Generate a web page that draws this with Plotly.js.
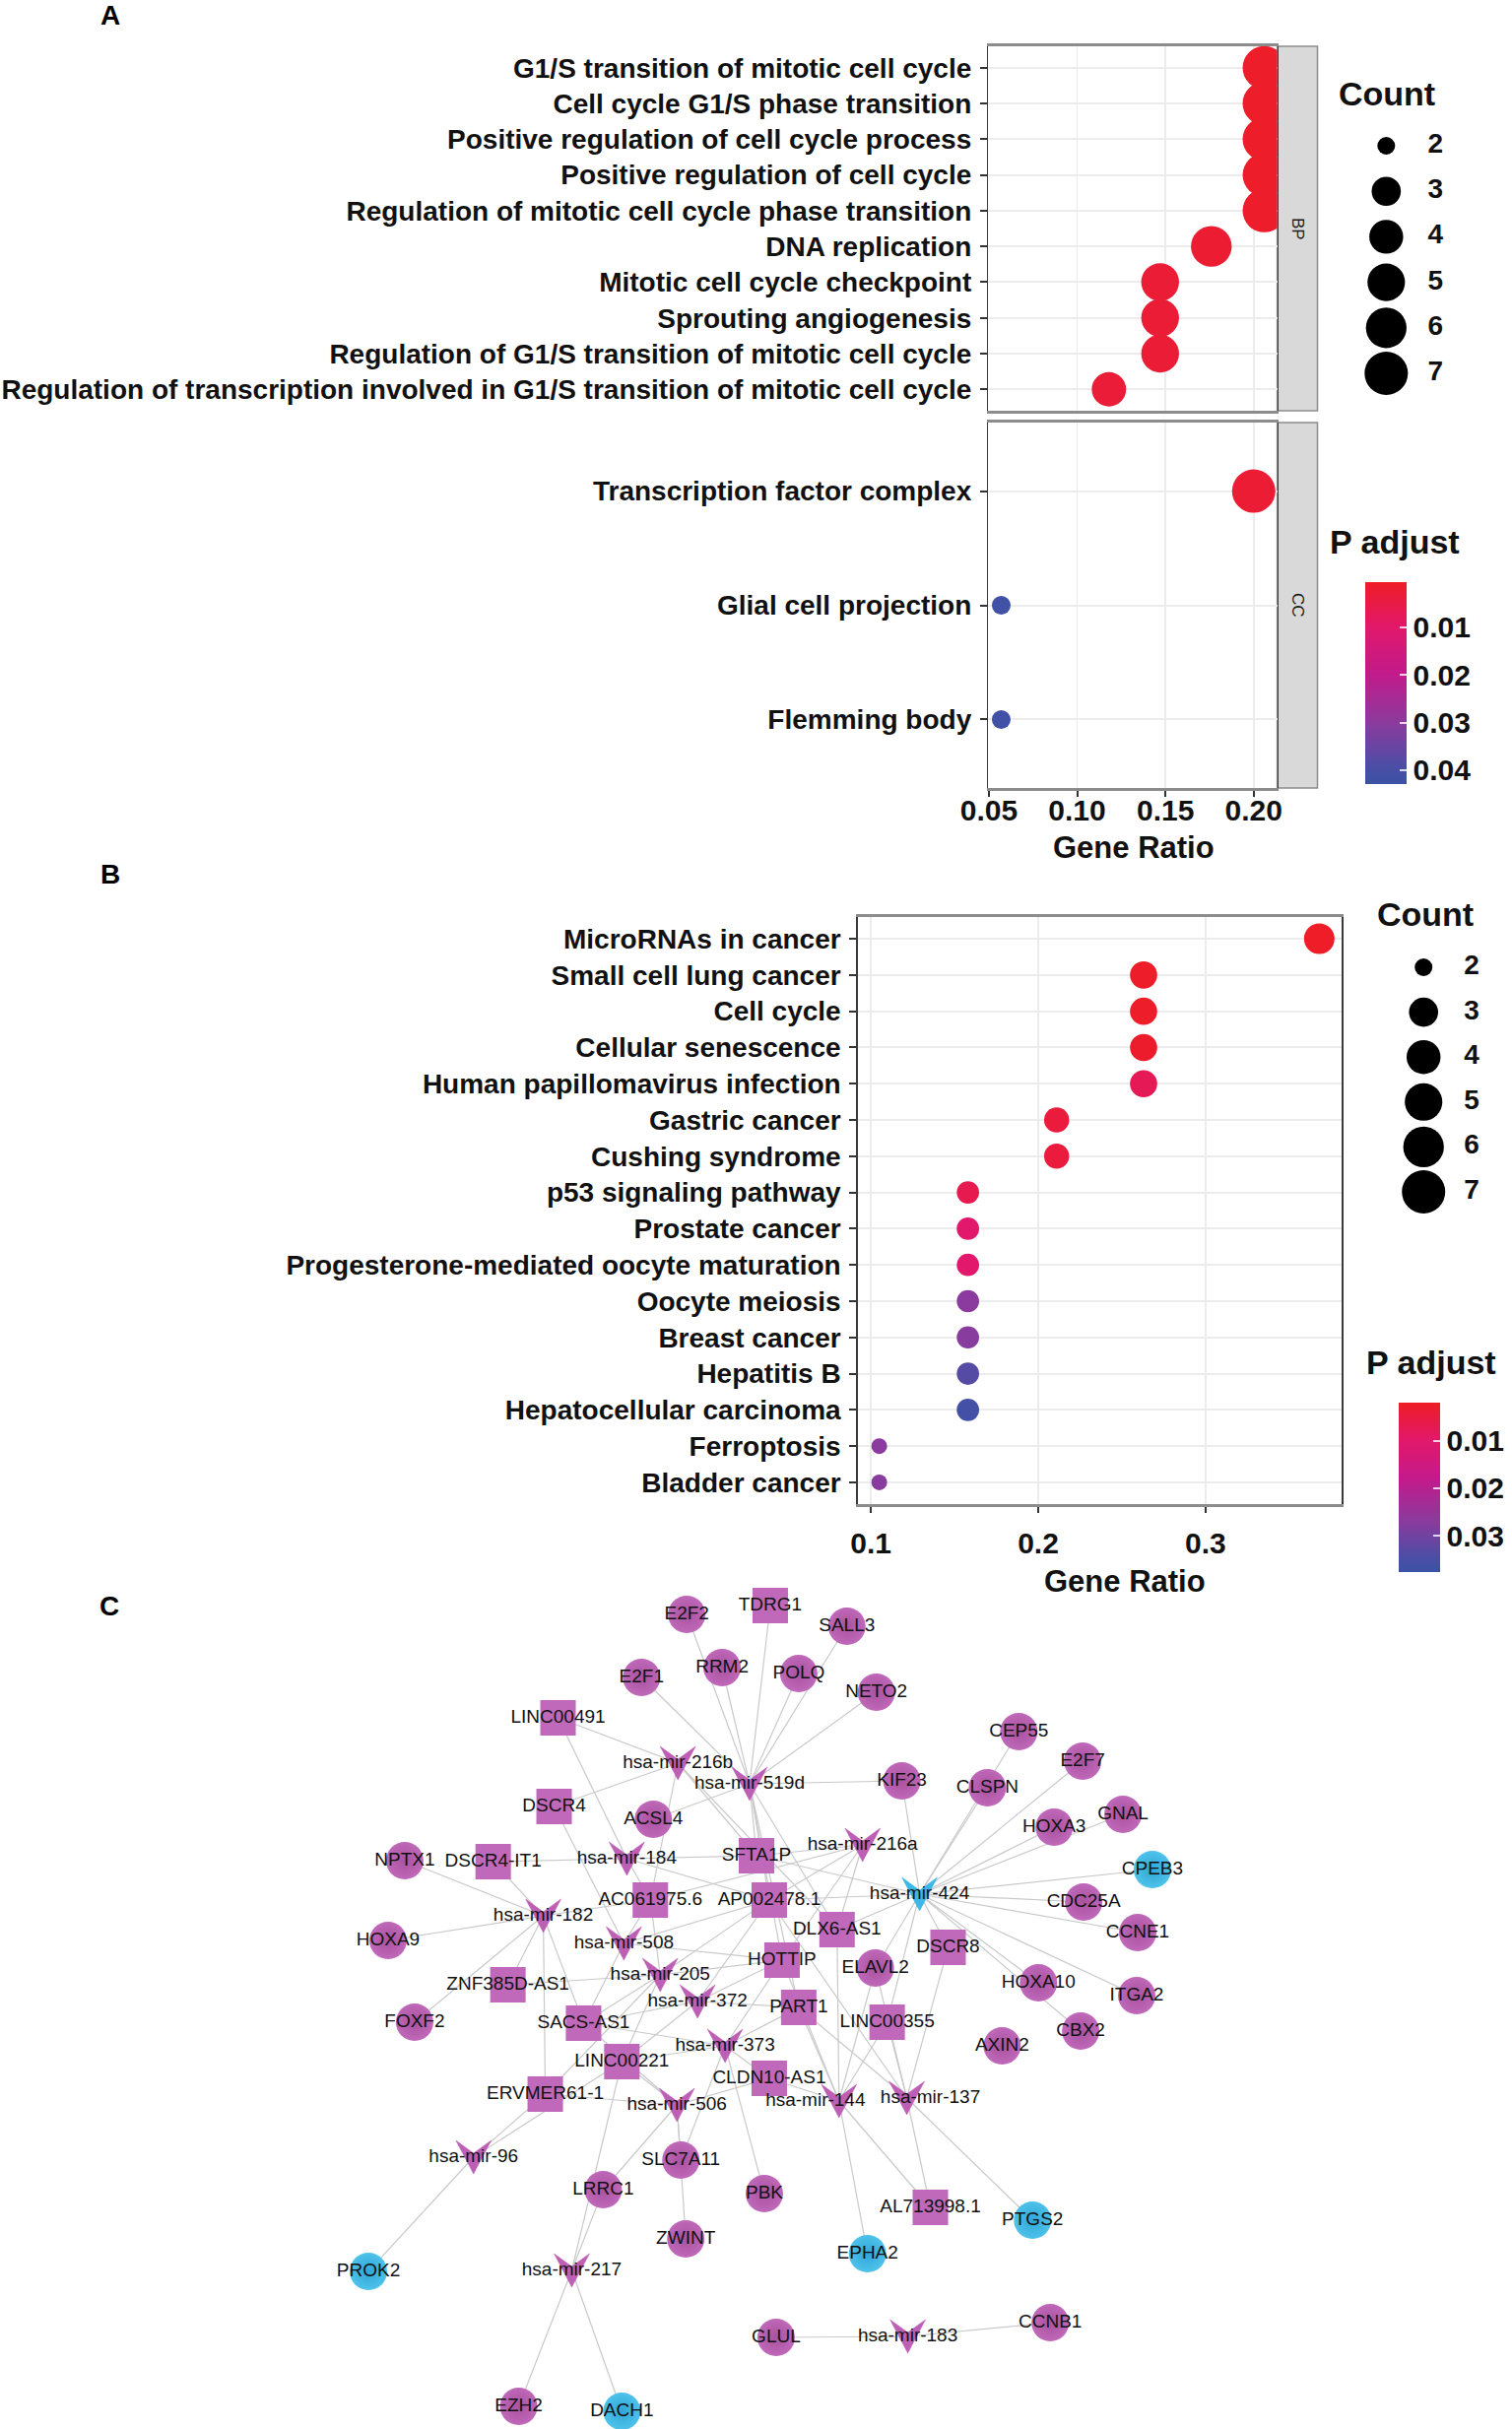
<!DOCTYPE html>
<html>
<head>
<meta charset="utf-8">
<script src="https://cdn.plot.ly/plotly-3.0.1.min.js"></script>
<style>
html,body{margin:0;padding:0;background:#ffffff;}
#chart{width:1535px;height:2466px;}
</style>
</head>
<body>
<div id="chart"></div>
<script>
// ---------------- DATA ----------------
// Panel A - GO enrichment (BP)
const bpTerms = ["G1/S transition of mitotic cell cycle","Cell cycle G1/S phase transition","Positive regulation of cell cycle process","Positive regulation of cell cycle","Regulation of mitotic cell cycle phase transition","DNA replication","Mitotic cell cycle checkpoint","Sprouting angiogenesis","Regulation of G1/S transition of mitotic cell cycle","Regulation of transcription involved in G1/S transition of mitotic cell cycle"];
const bpRatio = [0.206,0.206,0.206,0.206,0.206,0.176,0.147,0.147,0.147,0.118];
const bpCount = [7,7,7,7,7,6,5,5,5,4];
const bpPadj  = [0.0010,0.0010,0.0011,0.0012,0.0013,0.0022,0.0028,0.0028,0.0028,0.0030];
// Panel A - GO enrichment (CC)
const ccTerms = ["Transcription factor complex","Glial cell projection","Flemming body"];
const ccRatio = [0.200,0.057,0.057];
const ccCount = [7,2,2];
const ccPadj  = [0.0025,0.0415,0.0415];
// Panel B - KEGG enrichment
const keggTerms = ["MicroRNAs in cancer","Small cell lung cancer","Cell cycle","Cellular senescence","Human papillomavirus infection","Gastric cancer","Cushing syndrome","p53 signaling pathway","Prostate cancer","Progesterone-mediated oocyte maturation","Oocyte meiosis","Breast cancer","Hepatitis B","Hepatocellular carcinoma","Ferroptosis","Bladder cancer"];
const keggRatio = [0.368,0.263,0.263,0.263,0.263,0.211,0.211,0.158,0.158,0.158,0.158,0.158,0.158,0.158,0.105,0.105];
const keggCount = [7,5,5,5,5,4,4,3,3,3,3,3,3,3,2,2];
const keggPadj  = [0.0021,0.0025,0.0025,0.0028,0.0075,0.0045,0.0045,0.0068,0.0100,0.0100,0.0268,0.0272,0.0335,0.0360,0.0270,0.0272];
// Legends
const countLegend = [2,3,4,5,6,7];
const padjTicksA = [0.01,0.02,0.03,0.04];
const padjTicksB = [0.01,0.02,0.03];
// Panel C - ceRNA network (layout coordinates of each node)
const nodeName = ["hsa-mir-216b","hsa-mir-519d","hsa-mir-216a","hsa-mir-184","hsa-mir-424","hsa-mir-182","hsa-mir-508","hsa-mir-205","hsa-mir-372","hsa-mir-373","hsa-mir-506","hsa-mir-144","hsa-mir-137","hsa-mir-96","hsa-mir-217","hsa-mir-183",
 "TDRG1","LINC00491","DSCR4","DSCR4-IT1","SFTA1P","AC061975.6","AP002478.1","DLX6-AS1","DSCR8","HOTTIP","ZNF385D-AS1","PART1","SACS-AS1","LINC00355","LINC00221","CLDN10-AS1","ERVMER61-1","AL713998.1",
 "E2F2","SALL3","E2F1","RRM2","POLQ","NETO2","CEP55","E2F7","KIF23","CLSPN","ACSL4","HOXA3","GNAL","NPTX1","CPEB3","CDC25A","CCNE1","HOXA9","ELAVL2","HOXA10","ITGA2","FOXF2","CBX2","AXIN2","SLC7A11","LRRC1","PBK","PTGS2","ZWINT","EPHA2","PROK2","GLUL","CCNB1","EZH2","DACH1"];
const nodeType = ["miRNA","miRNA","miRNA","miRNA","miRNA","miRNA","miRNA","miRNA","miRNA","miRNA","miRNA","miRNA","miRNA","miRNA","miRNA","miRNA",
 "lncRNA","lncRNA","lncRNA","lncRNA","lncRNA","lncRNA","lncRNA","lncRNA","lncRNA","lncRNA","lncRNA","lncRNA","lncRNA","lncRNA","lncRNA","lncRNA","lncRNA","lncRNA",
 "mRNA","mRNA","mRNA","mRNA","mRNA","mRNA","mRNA","mRNA","mRNA","mRNA","mRNA","mRNA","mRNA","mRNA","mRNA","mRNA","mRNA","mRNA","mRNA","mRNA","mRNA","mRNA","mRNA","mRNA","mRNA","mRNA","mRNA","mRNA","mRNA","mRNA","mRNA","mRNA","mRNA","mRNA","mRNA"];
const nodeReg = ["up","up","up","up","down","up","up","up","up","up","up","up","up","up","up","up",
 "up","up","up","up","up","up","up","up","up","up","up","up","up","up","up","up","up","up",
 "up","up","up","up","up","up","up","up","up","up","up","up","up","up","down","up","up","up","up","up","up","up","up","up","up","up","up","down","up","down","down","up","up","up","down"];
const nodeX = [690,763,878,638,936,553,635,672,710,738,689,854,923,482,582,924,
 784,568,564,502,770,662,783,852,965,796,517,813,594,903,633,783,555,947,
 699,862,653,735,813,892,1037,1102,918,1005,665,1073,1143,412,1173,1103,1158,395,891,1057,1157,422,1100,1020,693,614,778,1051,698,883,375,790,1069,528,633];
const nodeY = [1790,1811,1873,1887,1923,1945,1973,2005,2032,2077,2137,2133,2130,2190,2305,2372,
 1630,1744,1834,1890,1884,1929,1929,1959,1977,1990,2015,2038,2054,2053,2093,2110,2126,2241,
 1639,1651,1703,1693,1699,1718,1758,1788,1808,1815,1847,1855,1842,1889,1898,1931,1962,1970,1998,2013,2026,2053,2062,2077,2193,2223,2227,2254,2273,2288,2306,2373,2358,2443,2448];
const edgeFrom = [
 "hsa-mir-519d","hsa-mir-519d","hsa-mir-519d","hsa-mir-519d","hsa-mir-519d","hsa-mir-519d","hsa-mir-519d","hsa-mir-519d","hsa-mir-519d","hsa-mir-519d","hsa-mir-519d","hsa-mir-519d","hsa-mir-519d","hsa-mir-519d",
 "hsa-mir-216b","hsa-mir-216b","hsa-mir-216b","hsa-mir-216b","hsa-mir-216b",
 "hsa-mir-216a","hsa-mir-216a","hsa-mir-216a","hsa-mir-216a","hsa-mir-216a",
 "hsa-mir-424","hsa-mir-424","hsa-mir-424","hsa-mir-424","hsa-mir-424","hsa-mir-424","hsa-mir-424","hsa-mir-424","hsa-mir-424","hsa-mir-424","hsa-mir-424","hsa-mir-424","hsa-mir-424","hsa-mir-424","hsa-mir-424","hsa-mir-424","hsa-mir-424","hsa-mir-424",
 "hsa-mir-184","hsa-mir-184","hsa-mir-184","hsa-mir-184","hsa-mir-184",
 "hsa-mir-182","hsa-mir-182","hsa-mir-182","hsa-mir-182","hsa-mir-182","hsa-mir-182","hsa-mir-182","hsa-mir-182",
 "hsa-mir-508","hsa-mir-508","hsa-mir-508","hsa-mir-508","hsa-mir-508",
 "hsa-mir-205","hsa-mir-205","hsa-mir-205","hsa-mir-205","hsa-mir-205","hsa-mir-205","hsa-mir-205",
 "hsa-mir-372","hsa-mir-372","hsa-mir-372","hsa-mir-372","hsa-mir-372",
 "hsa-mir-373","hsa-mir-373","hsa-mir-373","hsa-mir-373","hsa-mir-373","hsa-mir-373","hsa-mir-373",
 "hsa-mir-506","hsa-mir-506","hsa-mir-506","hsa-mir-506","hsa-mir-506","hsa-mir-506","hsa-mir-506",
 "hsa-mir-144","hsa-mir-144","hsa-mir-144","hsa-mir-144","hsa-mir-144","hsa-mir-144","hsa-mir-144","hsa-mir-144",
 "hsa-mir-137","hsa-mir-137","hsa-mir-137","hsa-mir-137","hsa-mir-137","hsa-mir-137","hsa-mir-137",
 "hsa-mir-96","hsa-mir-96","hsa-mir-96",
 "hsa-mir-217","hsa-mir-217","hsa-mir-217","hsa-mir-217",
 "hsa-mir-183","hsa-mir-183"];
const edgeTo = [
 "E2F2","TDRG1","SALL3","E2F1","RRM2","POLQ","NETO2","KIF23","ACSL4","SFTA1P","AP002478.1","DLX6-AS1","HOTTIP","PART1",
 "LINC00491","DSCR4","SFTA1P","DLX6-AS1","AC061975.6",
 "SFTA1P","AP002478.1","DLX6-AS1","HOTTIP","AC061975.6",
 "KIF23","CEP55","CLSPN","E2F7","HOXA3","GNAL","CPEB3","CDC25A","CCNE1","ITGA2","HOXA10","CBX2","DSCR8","SFTA1P","AP002478.1","DLX6-AS1","ELAVL2","LINC00355",
 "LINC00491","AC061975.6","AP002478.1","SFTA1P","DSCR4-IT1",
 "NPTX1","DSCR4-IT1","HOXA9","FOXF2","ZNF385D-AS1","SACS-AS1","ERVMER61-1","AC061975.6",
 "DSCR4","AC061975.6","SACS-AS1","HOTTIP","AP002478.1",
 "ZNF385D-AS1","HOTTIP","SACS-AS1","LINC00221","AP002478.1","ERVMER61-1","AC061975.6",
 "SACS-AS1","PART1","LINC00221","AP002478.1","HOTTIP",
 "LINC00221","PART1","CLDN10-AS1","SACS-AS1","PBK","HOTTIP","SLC7A11",
 "ERVMER61-1","LINC00221","SLC7A11","ZWINT","LRRC1","CLDN10-AS1","SACS-AS1",
 "LINC00355","HOTTIP","PART1","DLX6-AS1","EPHA2","AL713998.1","CLDN10-AS1","ELAVL2",
 "DSCR8","PART1","LINC00355","AL713998.1","PTGS2","ELAVL2","AP002478.1",
 "ERVMER61-1","LINC00221","PROK2",
 "LRRC1","EZH2","DACH1","LINC00221",
 "GLUL","CCNB1"];

// ---------------- STYLE / HELPERS ----------------
const W = 1535, H = 2466;
const px = v => v / W;
const py = v => 1 - v / H;
const FONT = "Liberation Sans, Arial, Helvetica, sans-serif";
const sizeA = c => 19 + 25 * Math.sqrt((c - 2) / 5);
const sizeB = c => 16 + 15 * Math.sqrt((c - 2) / 5);
const sizeLegend = c => 18 + 26 * Math.sqrt((c - 2) / 5);
const neg = arr => arr.map(v => -v);
const PURPLE = "#C068B9", PURPLE_EDGE = "#A9529F";
const BLUE = "#4EC2EA", BLUE_EDGE = "#2FA6D6";
const colorscale = [[0,'#3A53A4'],[0.08,'#4A4EA6'],[0.3,'#8A3B9D'],[0.55,'#C31A8B'],[0.78,'#E2186A'],[1,'#EE1D25']];
// small label nudges (px) so that two crowded labels do not sit on top of each other
const labelNudge = {"hsa-mir-144": -24, "hsa-mir-137": 24};

function catAxis(terms, domain, size) {
  return {
    type: 'category', domain: domain,
    categoryorder: 'array', categoryarray: terms.slice().reverse(),
    range: [-0.6, terms.length - 0.4], autorange: false,
    showline: true, mirror: true, linecolor: '#3a3a3a', linewidth: 1.5,
    ticks: 'outside', ticklen: 7, tickwidth: 2, tickcolor: '#333',
    tickfont: {family: FONT, size: size, color: '#111', weight: 'bold'},
    ticklabelstandoff: 3,
    showgrid: true, gridcolor: '#ECECEC', gridwidth: 2, zeroline: false, fixedrange: true
  };
}
function numAxis(domain, range, dtick, fmt, anchor) {
  return {
    domain: domain, range: range, autorange: false, anchor: anchor,
    dtick: dtick, tick0: 0, tickformat: fmt,
    showline: true, mirror: true, linecolor: '#8c8c8c', linewidth: 3,
    ticks: 'outside', ticklen: 6, tickwidth: 2, tickcolor: '#333',
    tickfont: {family: FONT, size: 30, color: '#111', weight: 'bold'},
    showgrid: true, gridcolor: '#ECECEC', gridwidth: 1.5, zeroline: false, fixedrange: true
  };
}
function note(text, x, y, size, extra) {
  return Object.assign({text: text, x: px(x), y: py(y), xref: 'paper', yref: 'paper',
    xanchor: 'center', yanchor: 'middle', showarrow: false,
    font: {family: FONT, size: size, weight: 'bold', color: '#111'}}, extra || {});
}

// ---------------- TRACES ----------------
const traces = [];
traces.push({
  type: 'scatter', mode: 'markers', x: bpRatio, y: bpTerms, xaxis: 'x', yaxis: 'y',
  marker: {size: bpCount.map(sizeA), opacity: 1, color: neg(bpPadj), coloraxis: 'coloraxis', line: {width: 0}},
  hoverinfo: 'skip', cliponaxis: true
});
traces.push({
  type: 'scatter', mode: 'markers', x: ccRatio, y: ccTerms, xaxis: 'x2', yaxis: 'y2',
  marker: {size: ccCount.map(sizeA), opacity: 1, color: neg(ccPadj), coloraxis: 'coloraxis', line: {width: 0}},
  hoverinfo: 'skip', cliponaxis: true
});
traces.push({
  type: 'scatter', mode: 'markers', x: keggRatio, y: keggTerms, xaxis: 'x3', yaxis: 'y3',
  marker: {size: keggCount.map(sizeB), opacity: 1, color: neg(keggPadj), coloraxis: 'coloraxis2', line: {width: 0}},
  hoverinfo: 'skip', cliponaxis: true
});
// Count legends (A: x4/y4, B: x5/y5)
[['x4','y4'],['x5','y5']].forEach(ax => {
  traces.push({
    type: 'scatter', mode: 'markers', x: countLegend.map(() => 0), y: countLegend,
    xaxis: ax[0], yaxis: ax[1], cliponaxis: false, hoverinfo: 'skip',
    marker: {size: countLegend.map(sizeLegend), opacity: 1, color: '#000', line: {width: 0}}
  });
  traces.push({
    type: 'scatter', mode: 'text', x: countLegend.map(() => 1), y: countLegend,
    text: countLegend.map(String), textposition: 'middle center',
    textfont: {family: FONT, size: 28, color: '#111', weight: 'bold'},
    xaxis: ax[0], yaxis: ax[1], cliponaxis: false, hoverinfo: 'skip'
  });
});
// Network edges
const idx = {};
nodeName.forEach((n, i) => idx[n] = i);
const ex = [], ey = [];
edgeFrom.forEach((f, k) => {
  const a = idx[f], b = idx[edgeTo[k]];
  ex.push(nodeX[a], nodeX[b], null);
  ey.push(nodeY[a], nodeY[b], null);
});
traces.push({
  type: 'scatter', mode: 'lines', x: ex, y: ey, xaxis: 'x6', yaxis: 'y6',
  line: {color: '#C9C9C9', width: 1.2}, hoverinfo: 'skip', cliponaxis: false
});
// miRNA V-shaped glyphs (polygon around each node position)
const vShape = [[-18,-17],[0,-4],[18,-17],[0,17],[-18,-17]];
['up','down'].forEach(reg => {
  const vx = [], vy = [];
  nodeName.forEach((n, i) => {
    if (nodeType[i] === 'miRNA' && nodeReg[i] === reg) {
      vShape.forEach(p => { vx.push(nodeX[i] + p[0]); vy.push(nodeY[i] + p[1]); });
      vx.push(null); vy.push(null);
    }
  });
  traces.push({
    type: 'scatter', mode: 'lines', x: vx, y: vy, xaxis: 'x6', yaxis: 'y6',
    fill: 'toself', fillcolor: reg === 'up' ? '#BD5FB5' : '#3DB7E6',
    line: {width: 0.5, color: reg === 'up' ? '#BD5FB5' : '#3DB7E6'},
    hoverinfo: 'skip', cliponaxis: false
  });
});
// mRNA (circles) and lncRNA (squares)
const nIdx = nodeName.map((n, i) => i).filter(i => nodeType[i] !== 'miRNA');
traces.push({
  type: 'scatter', mode: 'markers', xaxis: 'x6', yaxis: 'y6', hoverinfo: 'skip', cliponaxis: false,
  x: nIdx.map(i => nodeX[i]), y: nIdx.map(i => nodeY[i]),
  marker: {
    symbol: nIdx.map(i => nodeType[i] === 'lncRNA' ? 'square' : 'circle'),
    size: nIdx.map(i => nodeType[i] === 'lncRNA' ? 36 : 38),
    opacity: 1,
    color: nIdx.map(i => nodeReg[i] === 'down' ? BLUE : PURPLE),
    gradient: {
      type: nIdx.map(i => nodeType[i] === 'lncRNA' ? 'none' : 'radial'),
      color: nIdx.map(i => nodeReg[i] === 'down' ? BLUE_EDGE : PURPLE_EDGE)
    },
    line: {width: 0}
  }
});
// Node labels
traces.push({
  type: 'scatter', mode: 'text', xaxis: 'x6', yaxis: 'y6', hoverinfo: 'skip', cliponaxis: false,
  x: nodeX.map((v, i) => v + (labelNudge[nodeName[i]] || 0)), y: nodeY, text: nodeName, textposition: 'middle center',
  textfont: {family: FONT, size: 19, color: '#111'}
});

// ---------------- LAYOUT ----------------
const hidden = {visible: false, fixedrange: true};
const layout = {
  width: W, height: H, margin: {l: 0, r: 0, t: 0, b: 0},
  paper_bgcolor: '#ffffff', plot_bgcolor: '#ffffff', showlegend: false,
  font: {family: FONT, color: '#111'},
  xaxis: Object.assign(numAxis([px(1006), px(1300)], [0.0497, 0.2133], 0.05, '.2f', 'y'), {showticklabels: false, ticks: ''}),
  yaxis: Object.assign(catAxis(bpTerms, [py(417), py(47)], 28), {anchor: 'x'}),
  xaxis2: Object.assign(numAxis([px(1006), px(1300)], [0.0497, 0.2133], 0.05, '.2f', 'y2'), {matches: 'x', ticklabelstandoff: -12}),
  yaxis2: Object.assign(catAxis(ccTerms, [py(800), py(429)], 28), {anchor: 'x2'}),
  xaxis3: Object.assign(numAxis([px(873), px(1366)], [0.0921, 0.3816], 0.1, '.1f', 'y3'), {ticklabelstandoff: 5}),
  yaxis3: Object.assign(catAxis(keggTerms, [py(1527), py(931)], 28), {anchor: 'x3'}),
  xaxis4: Object.assign({}, hidden, {domain: [px(1411), px(1461)], range: [0, 1], anchor: 'y4'}),
  yaxis4: Object.assign({}, hidden, {domain: [py(402.1), py(124.9)], range: [7.5, 1.5], anchor: 'x4'}),
  xaxis5: Object.assign({}, hidden, {domain: [px(1449), px(1498)], range: [0, 1], anchor: 'y5'}),
  yaxis5: Object.assign({}, hidden, {domain: [py(1232.8), py(959.2)], range: [7.5, 1.5], anchor: 'x5'}),
  xaxis6: Object.assign({}, hidden, {domain: [0, 1], range: [0, 1535], anchor: 'y6'}),
  yaxis6: Object.assign({}, hidden, {domain: [0, py(1600)], range: [2466, 1600], anchor: 'x6'}),
  coloraxis: {
    colorscale: colorscale, cmin: -0.0429, cmax: -0.0005, showscale: true,
    colorbar: {
      x: px(1390), xanchor: 'left', y: py(591), yanchor: 'top',
      len: 205, lenmode: 'pixels', thickness: 42, thicknessmode: 'pixels',
      xpad: 0, ypad: 0, outlinewidth: 0,
      tickvals: neg(padjTicksA), ticktext: padjTicksA.map(v => v.toFixed(2)),
      ticks: 'inside', ticklen: 7, tickwidth: 2, tickcolor: 'rgba(255,255,255,0.8)',
      tickfont: {family: FONT, size: 30, color: '#111', weight: 'bold'}
    }
  },
  coloraxis2: {
    colorscale: colorscale, cmin: -0.0377, cmax: -0.0019, showscale: true,
    colorbar: {
      x: px(1424), xanchor: 'left', y: py(1424), yanchor: 'top',
      len: 172, lenmode: 'pixels', thickness: 42, thicknessmode: 'pixels',
      xpad: 0, ypad: 0, outlinewidth: 0,
      tickvals: neg(padjTicksB), ticktext: padjTicksB.map(v => v.toFixed(2)),
      ticks: 'inside', ticklen: 7, tickwidth: 2, tickcolor: 'rgba(255,255,255,0.8)',
      tickfont: {family: FONT, size: 30, color: '#111', weight: 'bold'}
    }
  },
  shapes: [
    // facet strips for panel A
    {type: 'rect', xref: 'paper', yref: 'paper', x0: px(1300), x1: px(1341), y0: py(417), y1: py(47),
     fillcolor: '#D9D9D9', line: {color: '#8c8c8c', width: 1.5}, layer: 'below'},
    {type: 'rect', xref: 'paper', yref: 'paper', x0: px(1300), x1: px(1341), y0: py(800), y1: py(429),
     fillcolor: '#D9D9D9', line: {color: '#8c8c8c', width: 1.5}, layer: 'below'}
  ],
  annotations: [
    note('A', 112, 15, 28, {font: {family: FONT, size: 28, weight: 'bold', color: '#000'}}),
    note('B', 112, 887, 28, {font: {family: FONT, size: 28, weight: 'bold', color: '#000'}}),
    note('C', 111, 1631, 28, {font: {family: FONT, size: 28, weight: 'bold', color: '#000'}}),
    note('BP', 1320.5, 232, 17, {textangle: 90, font: {family: FONT, size: 17, color: '#1a1a1a'}}),
    note('CC', 1320.5, 614, 17, {textangle: 90, font: {family: FONT, size: 17, color: '#1a1a1a'}}),
    note('Gene Ratio', 1154, 861, 31),
    note('Gene Ratio', 1145, 1606, 31),
    note('Count', 1412, 95, 34),
    note('P adjust', 1420, 550, 34),
    note('Count', 1451, 928, 34),
    note('P adjust', 1457, 1383, 34)
  ]
};

Plotly.newPlot('chart', traces, layout, {staticPlot: true, displayModeBar: false});
</script>
</body>
</html>
